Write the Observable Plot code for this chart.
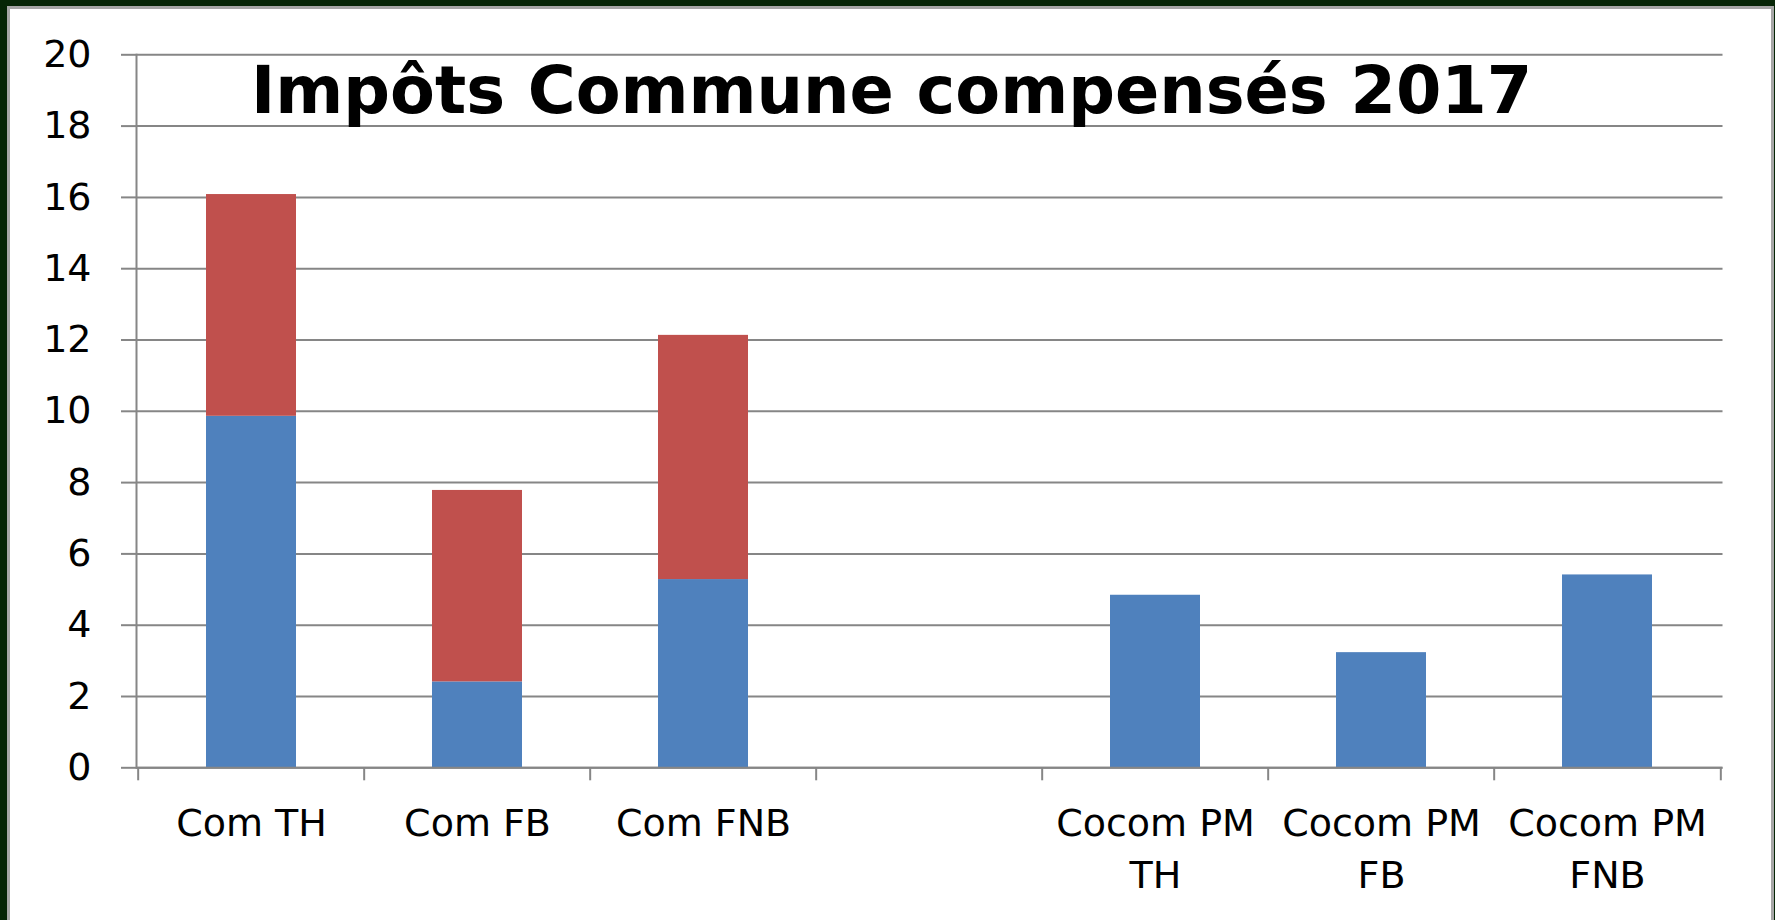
<!DOCTYPE html>
<html><head><meta charset="utf-8">
<script src="https://cdn.jsdelivr.net/npm/d3@7"></script>
<script src="https://cdn.jsdelivr.net/npm/@observablehq/plot@0.6"></script>
<style>
html,body{margin:0;padding:0;overflow:hidden;background:#062506;width:1775px;height:920px;}
#panel{position:absolute;left:7px;top:6px;width:1761px;height:920px;background:#fff;border:3px solid #a6a6a6;border-bottom:none;}
#chart{position:absolute;left:0;top:0;}
#title{position:absolute;left:251px;top:58px;font-family:"DejaVu Sans";font-weight:bold;font-size:65.3px;line-height:65px;color:#000;white-space:nowrap;}
</style></head><body>
<div id="panel"></div><div id="chart"></div><div id="title">Impôts Commune compensés 2017</div>
<script>
const categories = ["Com TH","Com FB","Com FNB","","Cocom PM TH","Cocom PM FB","Cocom PM FNB"];
const tickLabels = ["Com TH","Com FB","Com FNB","","Cocom PM\nTH","Cocom PM\nFB","Cocom PM\nFNB"];
const seriesNames = ["Série 1","Série 2"];
const serie1 = [9.86, 2.41, 5.28, 0, 4.84, 3.23, 5.41];
const serie2 = [6.22, 5.37, 6.85, 0, 0, 0, 0];
const seriesColors = ["#4f81bd","#c0504d"];
const yTicks = [0,2,4,6,8,10,12,14,16,18,20];

const rows = [];
categories.forEach((c,i)=>{
  if (serie1[i] > 0) rows.push({cat:c, series:seriesNames[0], value:serie1[i]});
  if (serie2[i] > 0) rows.push({cat:c, series:seriesNames[1], value:serie2[i]});
});

const W = 1775, H = 920, mL = 136, mR = 52.5, mT = 54.3, mB = 152.7;
const step = (W - mL - mR) / categories.length;
const grey = "#868686";

const chart = Plot.plot({
  width: W, height: H,
  marginLeft: mL, marginRight: mR, marginTop: mT, marginBottom: mB,
  style: {fontFamily: "DejaVu Sans", fontSize: "38px", background: "transparent", color: "#000"},
  x: {domain: categories, paddingInner: 0.6, paddingOuter: 0.3},
  y: {domain: [0, 20]},
  color: {domain: seriesNames, range: seriesColors},
  marks: [
    Plot.gridY(yTicks, {stroke: grey, strokeOpacity: 1, strokeWidth: 2}),
    Plot.axisY(yTicks, {tickSize: 15, tickPadding: 30, stroke: grey, strokeWidth: 2, label: null}),
    Plot.barY(rows, {x: "cat", y: "value", fill: "series"}),
    Plot.ruleY([0], {stroke: grey, strokeWidth: 2}),
    Plot.frame({anchor: "left", stroke: grey, strokeWidth: 2}),
    Plot.axisX({tickSize: 0, tickPadding: 31, lineHeight: 1.37, label: null,
      tickFormat: d => tickLabels[categories.indexOf(d)]}),
    Plot.axisX(categories, {tickSize: 13, tickFormat: () => "", dx: -step/2, stroke: grey, strokeWidth: 2, label: null}),
    Plot.axisX([categories[categories.length-1]], {tickSize: 13, tickFormat: () => "", dx: step/2, stroke: grey, strokeWidth: 2, label: null})
  ]
});
document.getElementById("chart").appendChild(chart);
</script>
</body></html>
